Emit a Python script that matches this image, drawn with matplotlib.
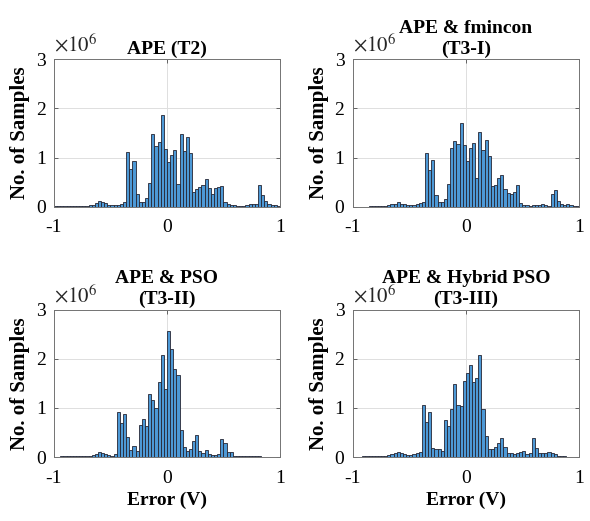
import numpy as np
import matplotlib
matplotlib.use("Agg")
from matplotlib import pyplot as plt

plt.rcParams['font.family'] = ['Liberation Serif', 'DejaVu Serif']
plt.rcParams['mathtext.fontset'] = 'stix'

# histogram counts per bin (x1e6 samples), 72 bins over [-1, 1]
t2 = [0.02, 0.02, 0.02, 0.02, 0.02, 0.02, 0.02, 0.02, 0.02, 0.03,
      0.03, 0.04, 0.05, 0.08, 0.12, 0.10, 0.08, 0.05, 0.05, 0.05,
      0.05, 0.06, 0.10, 1.11, 0.77, 0.93, 0.26, 0.10, 0.10, 0.18,
      0.48, 1.47, 1.23, 1.31, 1.86, 1.18, 0.92, 1.06, 1.16, 0.47,
      1.48, 1.14, 1.42, 1.10, 0.30, 0.36, 0.41, 0.45, 0.56, 0.38,
      0.26, 0.39, 0.40, 0.43, 0.10, 0.06, 0.05, 0.04, 0.03, 0.03,
      0.03, 0.04, 0.07, 0.07, 0.07, 0.45, 0.24, 0.13, 0.06, 0.05,
      0.05, 0.03]
t3_i = [0.01, 0.01, 0.01, 0.01, 0.01, 0.02, 0.02, 0.02, 0.02, 0.02,
        0.03, 0.04, 0.06, 0.07, 0.10, 0.07, 0.06, 0.04, 0.04, 0.05,
        0.07, 0.08, 0.10, 1.09, 0.75, 0.95, 0.24, 0.11, 0.11, 0.16,
        0.47, 1.20, 1.34, 1.28, 1.70, 1.25, 0.94, 1.20, 1.30, 0.59,
        1.53, 1.16, 1.36, 1.03, 0.43, 0.44, 0.59, 0.64, 0.36, 0.29,
        0.27, 0.31, 0.45, 0.09, 0.05, 0.04, 0.03, 0.04, 0.04, 0.05,
        0.07, 0.04, 0.03, 0.26, 0.35, 0.13, 0.07, 0.05, 0.06, 0.04,
        0.03, 0.02]
t3_ii = [0.01, 0.01, 0.02, 0.02, 0.02, 0.02, 0.02, 0.02, 0.02, 0.03,
         0.03, 0.03, 0.05, 0.07, 0.10, 0.08, 0.06, 0.04, 0.03, 0.07,
         0.91, 0.69, 0.88, 0.41, 0.14, 0.23, 0.12, 0.66, 0.78, 0.64,
         1.29, 1.16, 1.00, 1.53, 2.07, 1.39, 2.56, 2.19, 1.80, 1.66,
         0.54, 0.20, 0.12, 0.17, 0.33, 0.44, 0.13, 0.08, 0.14, 0.07,
         0.05, 0.05, 0.07, 0.37, 0.29, 0.11, 0.10, 0.03, 0.02, 0.02,
         0.02, 0.02, 0.02, 0.02, 0.02, 0.02, 0.01, 0.01, 0.01, 0.01,
         0.01, 0.01]
t3_iii = [0.01, 0.01, 0.01, 0.02, 0.02, 0.02, 0.02, 0.02, 0.02, 0.02,
          0.03, 0.04, 0.06, 0.08, 0.11, 0.08, 0.07, 0.05, 0.05, 0.07,
          0.09, 0.10, 1.06, 0.72, 0.92, 0.19, 0.17, 0.16, 0.13, 0.75,
          0.64, 0.98, 1.49, 1.06, 1.03, 1.55, 1.71, 1.87, 1.53, 1.60,
          2.07, 0.97, 0.43, 0.17, 0.17, 0.20, 0.28, 0.39, 0.20, 0.08,
          0.09, 0.06, 0.08, 0.10, 0.13, 0.06, 0.09, 0.38, 0.18, 0.08,
          0.08, 0.09, 0.10, 0.08, 0.06, 0.03, 0.02, 0.02, 0.01, 0.01,
          0.01, 0.01]

# (first line, second line) of each panel title
titles = [('', 'APE (T2)'), ('APE & fmincon', '(T3-I)'),
          ('APE & PSO', '(T3-II)'), ('APE & Hybrid PSO', '(T3-III)')]
series = [t2, t3_i, t3_ii, t3_iii]
xtick_vals = [-1, 0, 1]
xtick_text = ['-1', '0', '1']

edges = np.linspace(-1, 1, 73)
positions = [[0.0915, 0.6027, 0.383, 0.284], [0.598, 0.6027, 0.383, 0.284],
             [0.0915, 0.1228, 0.383, 0.283], [0.598, 0.1228, 0.383, 0.283]]

fig = plt.figure(figsize=(5.9, 5.21), dpi=100)
for i, (counts, (line1, line2)) in enumerate(zip(series, titles)):
    ax = fig.add_axes(positions[i])
    ax.hist(edges[:-1], bins=edges, weights=counts, facecolor=(0.30, 0.60, 0.84),
            edgecolor=(0.15, 0.15, 0.2), linewidth=0.6, zorder=2)
    ax.set_xlim(-1, 1)
    ax.set_ylim(0, 3)
    ax.set_xticks(xtick_vals)
    ax.set_xticklabels(xtick_text)
    ax.set_yticks([0, 1, 2, 3])
    ax.grid(True, color=(0.87, 0.87, 0.87), linewidth=0.7, zorder=0)
    ax.set_axisbelow(True)
    ax.tick_params(direction='in', length=3, width=0.6, labelsize=14,
                   top=True, right=True, color=(0.3, 0.3, 0.3))
    ax.tick_params(axis='x', pad=9)
    ax.tick_params(axis='y', pad=6)
    for sp in ax.spines.values():
        sp.set_color((0.45, 0.45, 0.45))
        sp.set_linewidth(0.7)
    ax.set_title(line2, fontsize=14, fontweight='bold', pad=4)
    if line1:
        ax.text(0.5, 1.15, line1, transform=ax.transAxes, fontsize=14,
                fontweight='bold', ha='center', va='bottom')
    ax.set_ylabel('No. of Samples', fontsize=15, fontweight='bold', labelpad=4)
    ax.text(0.0, 1.015, r'$\times10^{6}$', transform=ax.transAxes, fontsize=15,
            color=(0.15, 0.15, 0.15), ha='left', va='bottom')
    if i >= 2:
        ax.set_xlabel('Error (V)', fontsize=14, fontweight='bold', labelpad=4)

plt.savefig('out.png', dpi=100)
